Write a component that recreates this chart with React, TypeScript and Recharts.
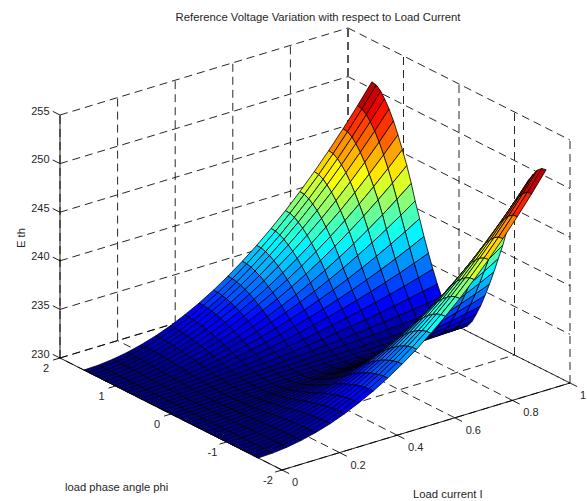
import React from 'react';
import { ScatterChart, Scatter, XAxis, YAxis } from 'recharts';

const currentGrid = [0, 0.05, 0.1, 0.15, 0.2, 0.25, 0.3, 0.35, 0.4, 0.45, 0.5, 0.55, 0.6, 0.65, 0.7, 0.75, 0.8, 0.85, 0.9, 0.95, 1];
const phiGrid = [
  -1.57, -1.49, -1.41, -1.34, -1.26, -1.18, -1.1, -1.02, -0.94, -0.86, -0.79, -0.71, -0.63, -0.55, -0.47, -0.39, -0.31, -0.24, -0.16, -0.08,
  0,
  0.08, 0.16, 0.24, 0.31, 0.39, 0.47, 0.55, 0.63, 0.71, 0.79, 0.86, 0.94, 1.02, 1.1, 1.18, 1.26, 1.34, 1.41, 1.49, 1.57,
];

// Eth above 230, one row per load current, one column per phi
const ethRise = [
  [0, 0, 0, 0, 0, 0, 0, 0, 0, 0, 0, 0, 0, 0, 0, 0, 0, 0, 0, 0, 0, 0, 0, 0, 0, 0, 0, 0, 0, 0, 0, 0, 0, 0, 0, 0, 0, 0, 0, 0, 0],
  [.05, .05, .05, .05, .05, .04, .04, .04, .03, .03, .03, .02, .02, .02, .01, .01, .01, 0, 0, 0, 0, 0, 0, 0, .01, .01, .01, .02, .02, .02, .03, .03, .03, .04, .04, .04, .05, .05, .05, .05, .05],
  [.21, .21, .2, .2, .19, .18, .17, .15, .14, .12, .11, .09, .08, .06, .05, .03, .02, .01, .01, 0, 0, 0, .01, .01, .02, .03, .05, .06, .08, .09, .11, .12, .14, .15, .17, .18, .19, .2, .2, .21, .21],
  [.47, .46, .45, .44, .42, .4, .37, .34, .31, .28, .24, .2, .17, .14, .1, .07, .05, .03, .01, 0, 0, 0, .01, .03, .05, .07, .1, .14, .17, .2, .24, .28, .31, .34, .37, .4, .42, .44, .45, .46, .47],
  [.83, .82, .81, .78, .75, .71, .66, .61, .56, .49, .43, .36, .3, .24, .18, .13, .09, .05, .02, .01, 0, .01, .02, .05, .09, .13, .18, .24, .3, .36, .43, .49, .56, .61, .66, .71, .75, .78, .81, .82, .83],
  [1.29, 1.29, 1.26, 1.23, 1.18, 1.11, 1.04, .96, .87, .77, .67, .57, .47, .38, .29, .21, .14, .08, .04, .01, 0, .01, .04, .08, .14, .21, .29, .38, .47, .57, .67, .77, .87, .96, 1.04, 1.11, 1.18, 1.23, 1.26, 1.29, 1.29],
  [1.86, 1.85, 1.82, 1.76, 1.69, 1.6, 1.49, 1.38, 1.25, 1.11, .96, .82, .68, .54, .41, .3, .2, .12, .05, .02, 0, .02, .05, .12, .2, .3, .41, .54, .68, .82, .96, 1.11, 1.25, 1.38, 1.49, 1.6, 1.69, 1.76, 1.82, 1.85, 1.86],
  [2.54, 2.52, 2.47, 2.4, 2.3, 2.18, 2.03, 1.87, 1.7, 1.51, 1.31, 1.11, .92, .74, .56, .4, .27, .16, .07, .02, 0, .02, .07, .16, .27, .4, .56, .74, .92, 1.11, 1.31, 1.51, 1.7, 1.87, 2.03, 2.18, 2.3, 2.4, 2.47, 2.52, 2.54],
  [3.31, 3.3, 3.23, 3.14, 3.01, 2.85, 2.66, 2.45, 2.22, 1.97, 1.71, 1.46, 1.2, .96, .74, .53, .35, .21, .1, .03, 0, .03, .1, .21, .35, .53, .74, .96, 1.2, 1.46, 1.71, 1.97, 2.22, 2.45, 2.66, 2.85, 3.01, 3.14, 3.23, 3.3, 3.31],
  [4.19, 4.17, 4.09, 3.97, 3.81, 3.6, 3.36, 3.1, 2.81, 2.49, 2.17, 1.84, 1.52, 1.22, .93, .67, .45, .26, .12, .04, 0, .04, .12, .26, .45, .67, .93, 1.22, 1.52, 1.84, 2.17, 2.49, 2.81, 3.1, 3.36, 3.6, 3.81, 3.97, 4.09, 4.17, 4.19],
  [5.18, 5.15, 5.05, 4.9, 4.7, 4.45, 4.15, 3.83, 3.48, 3.08, 2.68, 2.28, 1.88, 1.5, 1.15, .83, .55, .33, .15, .05, 0, .05, .15, .33, .55, .83, 1.15, 1.5, 1.88, 2.28, 2.68, 3.08, 3.48, 3.83, 4.15, 4.45, 4.7, 4.9, 5.05, 5.15, 5.18],
  [6.26, 6.23, 6.11, 5.93, 5.69, 5.38, 5.02, 4.63, 4.2, 3.72, 3.24, 2.75, 2.27, 1.82, 1.39, 1, .67, .39, .18, .06, 0, .06, .18, .39, .67, 1, 1.39, 1.82, 2.27, 2.75, 3.24, 3.72, 4.2, 4.63, 5.02, 5.38, 5.69, 5.93, 6.11, 6.23, 6.26],
  [7.45, 7.42, 7.27, 7.06, 6.77, 6.41, 5.98, 5.51, 5, 4.43, 3.85, 3.28, 2.7, 2.16, 1.66, 1.19, .79, .47, .22, .07, 0, .07, .22, .47, .79, 1.19, 1.66, 2.16, 2.7, 3.28, 3.85, 4.43, 5, 5.51, 5.98, 6.41, 6.77, 7.06, 7.27, 7.42, 7.45],
  [8.75, 8.7, 8.53, 8.28, 7.94, 7.52, 7.01, 6.46, 5.87, 5.2, 4.52, 3.84, 3.17, 2.54, 1.94, 1.39, .93, .55, .25, .08, 0, .08, .25, .55, .93, 1.39, 1.94, 2.54, 3.17, 3.84, 4.52, 5.2, 5.87, 6.46, 7.01, 7.52, 7.94, 8.28, 8.53, 8.7, 8.75],
  [10.14, 10.09, 9.9, 9.6, 9.21, 8.72, 8.13, 7.5, 6.81, 6.03, 5.24, 4.46, 3.68, 2.94, 2.25, 1.62, 1.08, .64, .29, .1, 0, .1, .29, .64, 1.08, 1.62, 2.25, 2.94, 3.68, 4.46, 5.24, 6.03, 6.81, 7.5, 8.13, 8.72, 9.21, 9.6, 9.9, 10.09, 10.14],
  [11.64, 11.59, 11.36, 11.03, 10.58, 10.01, 9.34, 8.61, 7.82, 6.92, 6.02, 5.12, 4.22, 3.38, 2.59, 1.86, 1.24, .73, .34, .11, 0, .11, .34, .73, 1.24, 1.86, 2.59, 3.38, 4.22, 5.12, 6.02, 6.92, 7.82, 8.61, 9.34, 10.01, 10.58, 11.03, 11.36, 11.59, 11.64],
  [13.25, 13.18, 12.93, 12.54, 12.03, 11.39, 10.62, 9.79, 8.9, 7.87, 6.85, 5.82, 4.8, 3.84, 2.94, 2.11, 1.41, .83, .38, .13, 0, .13, .38, .83, 1.41, 2.11, 2.94, 3.84, 4.8, 5.82, 6.85, 7.87, 8.9, 9.79, 10.62, 11.39, 12.03, 12.54, 12.93, 13.18, 13.25],
  [14.96, 14.88, 14.59, 14.16, 13.58, 12.86, 11.99, 11.05, 10.04, 8.89, 7.73, 6.57, 5.42, 4.34, 3.32, 2.38, 1.59, .94, .43, .14, 0, .14, .43, .94, 1.59, 2.38, 3.32, 4.34, 5.42, 6.57, 7.73, 8.89, 10.04, 11.05, 11.99, 12.86, 13.58, 14.16, 14.59, 14.88, 14.96],
  [16.77, 16.69, 16.36, 15.88, 15.23, 14.42, 13.45, 12.39, 11.26, 9.96, 8.67, 7.37, 6.08, 4.86, 3.73, 2.67, 1.78, 1.05, .49, .16, 0, .16, .49, 1.05, 1.78, 2.67, 3.73, 4.86, 6.08, 7.37, 8.67, 9.96, 11.26, 12.39, 13.45, 14.42, 15.23, 15.88, 16.36, 16.69, 16.77],
  [18.68, 18.59, 18.23, 17.69, 16.97, 16.06, 14.98, 13.81, 12.54, 11.1, 9.66, 8.21, 6.77, 5.42, 4.15, 2.98, 1.99, 1.17, .54, .18, 0, .18, .54, 1.17, 1.99, 2.98, 4.15, 5.42, 6.77, 8.21, 9.66, 11.1, 12.54, 13.81, 14.98, 16.06, 16.97, 17.69, 18.23, 18.59, 18.68],
  [20.7, 20.6, 20.2, 19.6, 18.8, 17.8, 16.6, 15.3, 13.9, 12.3, 10.7, 9.1, 7.5, 6, 4.6, 3.3, 2.2, 1.3, .6, .2, 0, .2, .6, 1.3, 2.2, 3.3, 4.6, 6, 7.5, 9.1, 10.7, 12.3, 13.9, 15.3, 16.6, 17.8, 18.8, 19.6, 20.2, 20.6, 20.7],
];

const ethFloor = 230;
const ethCeil = 255;
const ethTicks = [230, 235, 240, 245, 250, 255];
const phiTicks = [2, 1, 0, -1, -2];
const currentTicks = [0, 0.2, 0.4, 0.6, 0.8, 1];

const WIDTH = 587;
const HEIGHT = 501;
const colorMax = 21.3;

// orthographic camera
const project = (current: number, phi: number, eth: number) => ({
  x: 282 + 288 * current - 55.5 * (phi + 2),
  y: 470 - 87 * current - 28 * (phi + 2) - 9.72 * (eth - ethFloor),
});

// matlab jet, 64 levels
const jet = (t: number) => {
  const v = Math.floor(Math.min(t, 0.9999) * 64) / 63;
  const clamp = (n: number) => Math.max(0, Math.min(1, n));
  const r = v < 0.875 ? clamp((v - 0.375) * 4) : 1 - (v - 0.875) * 4;
  const g = clamp(v < 0.625 ? (v - 0.125) * 4 : 1 - (v - 0.625) * 4);
  const b = v < 0.125 ? 0.5 + v * 4 : clamp(1 - (v - 0.375) * 4);
  return `rgb(${Math.round(r * 255)},${Math.round(g * 255)},${Math.round(b * 255)})`;
};

// back to front: far current and high phi first
const quadCorners: { x: number; y: number }[] = [];
const quadColors: string[] = [];
for (let i = currentGrid.length - 2; i >= 0; i--) {
  for (let j = phiGrid.length - 2; j >= 0; j--) {
    const corner = (a: number, b: number) => project(currentGrid[a], phiGrid[b], ethFloor + ethRise[a][b]);
    quadCorners.push(corner(i, j), corner(i + 1, j), corner(i + 1, j + 1), corner(i, j + 1));
    const mean = (ethRise[i][j] + ethRise[i + 1][j] + ethRise[i + 1][j + 1] + ethRise[i][j + 1]) / 4;
    quadColors.push(jet(mean / colorMax));
  }
}

// grid lines, two points per segment
const gridPoints: { x: number; y: number }[] = [];
ethTicks.forEach((e) => {
  gridPoints.push(project(0, 2, e), project(1, 2, e), project(1, 2, e), project(1, -2, e));
});
currentTicks.forEach((c) => {
  gridPoints.push(project(c, -2, ethFloor), project(c, 2, ethFloor), project(c, 2, ethFloor), project(c, 2, ethCeil));
});
phiTicks.forEach((p) => {
  gridPoints.push(project(0, p, ethFloor), project(1, p, ethFloor), project(1, p, ethFloor), project(1, p, ethCeil));
});

const axisPoints: { x: number; y: number }[] = [
  project(0, 2, ethFloor), project(0, 2, ethCeil),
  project(0, 2, ethFloor), project(0, -2, ethFloor),
  project(0, -2, ethFloor), project(1, -2, ethFloor),
];
ethTicks.forEach((e) => axisPoints.push(project(0, 2, e), project(0, 2.13, e)));
phiTicks.forEach((p) => axisPoints.push(project(0, p, ethFloor), project(-0.024, p, ethFloor)));
currentTicks.forEach((c) => axisPoints.push(project(c, -2, ethFloor), project(c, -2.13, ethFloor)));

const ethLabels = ethTicks.map((e) => ({ ...project(0, 2, e), text: String(e) }));
const phiLabels = phiTicks.map((p) => ({ ...project(0, p, ethFloor), text: String(p) }));
const currentLabels = currentTicks.map((c) => ({ ...project(c, -2, ethFloor), text: String(c) }));

const textColor = '#262626';
const fontFamily = '"Liberation Sans", Arial, sans-serif';

const Nothing = () => null;

const drawQuads = ({ points }: any) => {
  const faces = [];
  for (let q = 0; q < quadColors.length; q++) {
    const c = points.slice(q * 4, q * 4 + 4).map((p: any) => `${p.x},${p.y}`).join(' ');
    faces.push(<polygon key={q} points={c} fill={quadColors[q]} stroke="#000" strokeWidth={0.8} strokeLinejoin="round" />);
  }
  return <g>{faces}</g>;
};

const drawSegments = (dash?: string, width = 0.8) => ({ points }: any) => {
  const d = [];
  for (let s = 0; s + 1 < points.length; s += 2) {
    d.push(`M${points[s].x},${points[s].y}L${points[s + 1].x},${points[s + 1].y}`);
  }
  return <path d={d.join('')} fill="none" stroke="#000" strokeWidth={width} strokeDasharray={dash} />;
};

const tickText = (dx: number, dy: number, anchor: string) => ({ cx, cy, payload }: any) => (
  <text x={cx + dx} y={cy + dy} textAnchor={anchor} fontSize={11} fontFamily={fontFamily} fill={textColor}>
    {payload.text}
  </text>
);

const currentText = ({ cx, cy, payload }: any) => (
  <text x={cx + (payload.text.length > 1 ? 18.5 : 13)} y={cy + 16} textAnchor="middle" fontSize={11} fontFamily={fontFamily} fill={textColor}>
    {payload.text}
  </text>
);

export default function App() {
  return (
    <div style={{ position: 'absolute', left: 0, top: 0, width: WIDTH, height: HEIGHT, background: '#fff' }}>
      <ScatterChart width={WIDTH} height={HEIGHT} margin={{ top: 0, right: 0, bottom: 0, left: 0 }}>
        <XAxis type="number" dataKey="x" domain={[0, WIDTH]} hide />
        <YAxis type="number" dataKey="y" domain={[0, HEIGHT]} reversed hide />
        <Scatter data={gridPoints} line={drawSegments('8 5', 0.85)} shape={Nothing} isAnimationActive={false} />
        <Scatter data={quadCorners} line={drawQuads} shape={Nothing} isAnimationActive={false} />
        <Scatter data={axisPoints} line={drawSegments(undefined, 0.9)} shape={Nothing} isAnimationActive={false} />
        <Scatter data={ethLabels} shape={tickText(-10.5, -0.5, 'end')} isAnimationActive={false} />
        <Scatter data={phiLabels} shape={tickText(-14, 14, 'middle')} isAnimationActive={false} />
        <Scatter data={currentLabels} shape={currentText} isAnimationActive={false} />
        <text x={318} y={21} textAnchor="middle" fontSize={11.3} fontFamily={fontFamily} fill={textColor}>
          Reference Voltage Variation with respect to Load Current
        </text>
        <text x={65} y={491} fontSize={11.2} fontFamily={fontFamily} fill={textColor}>load phase angle phi</text>
        <text x={413} y={498} fontSize={11.3} fontFamily={fontFamily} fill={textColor}>Load current I</text>
        <text transform="translate(25,238) rotate(-90)" textAnchor="middle" fontSize={11.2} fontFamily={fontFamily} fill={textColor}>E th</text>
      </ScatterChart>
    </div>
  );
}
